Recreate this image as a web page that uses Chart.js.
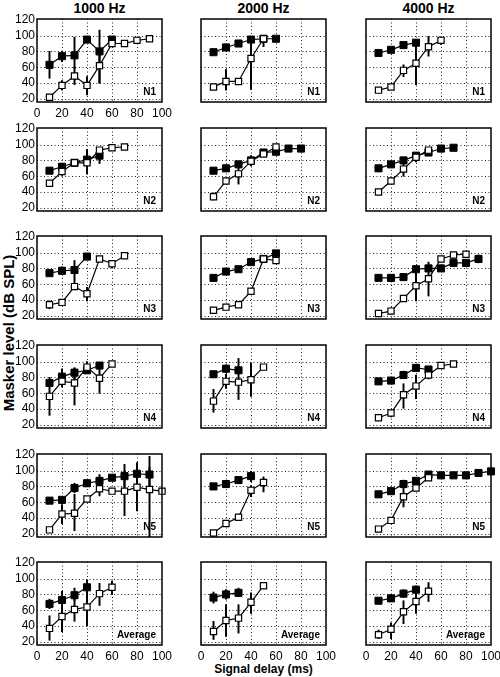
<!DOCTYPE html>
<html>
<head>
<meta charset="utf-8">
<script src="https://cdn.jsdelivr.net/npm/chart.js@4.4.1/dist/chart.umd.min.js"></script>
<style>
  html, body { margin: 0; padding: 0; background: #fff; }
  body { width: 500px; height: 677px; position: relative; overflow: hidden; font-family: "Liberation Sans", Arial, Helvetica, sans-serif; }
  canvas { position: absolute; }
  .txt { position: absolute; font-weight: bold; color: #000; white-space: nowrap; }
  .tick { position: absolute; font-size: 12px; line-height: 12px; color: #000; white-space: nowrap; transform: translateX(-50%); z-index: 5; }
</style>
</head>
<body>
<script>
// ---------------- DATA ----------------
const delays = [10, 20, 30, 40, 50, 60, 70, 80, 90, 100];   // signal delay (ms)
const frequencies = ['1000 Hz', '2000 Hz', '4000 Hz'];
const listeners = ['N1', 'N2', 'N3', 'N4', 'N5', 'Average'];
const xTicks = [0, 20, 40, 60, 80, 100];
const yTicks = [20, 40, 60, 80, 100, 120];
const xTitle = 'Signal delay (ms)';
const yTitle = 'Masker level (dB SPL)';

// 1000 Hz  (filled = ■, open = □ ; error bars as [low, high])
const f1000_N1 = [63, 74, 75, 95, 80, 95];
const f1000_N1_err = [[46, 80], [67, 80], [58, 98], null, [40, 107], null];
const o1000_N1 = [22, 37, 49, 37, 62, 90, 90, 94, 96];
const o1000_N1_err = [[19, 25], [31, 43], [38, 60], [25, 48], [40, 78], null, null, null, null];

const f1000_N2 = [67, 72, 77, 81, 86];
const f1000_N2_err = [null, [68, 76], null, [72, 91], [76, 95]];
const o1000_N2 = [51, 66, 77, 77, 93, 96, 97];
const o1000_N2_err = [null, [61, 72], null, [63, 94], null, null, null];

const f1000_N3 = [74, 77, 78, 95];
const f1000_N3_err = [null, [72, 82], [62, 90], null];
const o1000_N3 = [34, 37, 57, 48, 92, 86, 96];
const o1000_N3_err = [[29, 39], null, null, [39, 56], null, [81, 90], null];

const f1000_N4 = [73, 81, 86, 89, 95];
const f1000_N4_err = [null, [70, 91], [78, 92], null, null];
const o1000_N4 = [56, 75, 73, 93, 79, 97];
const o1000_N4_err = [[32, 80], [68, 83], [45, 92], [86, 100], [60, 94], null];

const f1000_N5 = [62, 63, 78, 84, 87, 91, 93, 96, 95];
const f1000_N5_err = [null, null, [72, 84], [81, 88], [80, 95], null, [80, 108], [84, 110], [75, 118]];
const o1000_N5 = [25, 45, 46, 64, 77, 74, 74, 79, 76, 74];
const o1000_N5_err = [null, [33, 57], [24, 70], null, [68, 90], null, [43, 100], [49, 98], [16, 104], null];

const f1000_Avg = [68, 73, 79, 89];
const f1000_Avg_err = [[62, 74], [64, 84], [72, 88], [80, 98]];
const o1000_Avg = [37, 52, 61, 64, 81, 89];
const o1000_Avg_err = [[22, 53], [33, 69], [46, 78], [40, 87], [66, 94], [80, 97]];

// 2000 Hz
const f2000_N1 = [79, 85, 90, 95, 96, 96];
const f2000_N1_err = [null, null, null, null, null, null];
const o2000_N1 = [35, 42, 42, 71, 96];
const o2000_N1_err = [null, [31, 57], null, [32, 91], [86, 99]];

const f2000_N2 = [67, 70, 75, 80, 90, 91, 95, 95];
const f2000_N2_err = [null, null, null, [73, 86], null, null, null, null];
const o2000_N2 = [34, 54, 63, 79, 88, 97];
const o2000_N2_err = [[30, 39], null, [50, 72], [76, 83], null, null];

const f2000_N3 = [68, 76, 79, 88, 92, 99];
const f2000_N3_err = [null, null, null, null, null, null];
const o2000_N3 = [27, 31, 34, 51, 92, 90];
const o2000_N3_err = [[24, 30], null, null, null, null, null];

const f2000_N4 = [84, 91, 89];
const f2000_N4_err = [null, [86, 96], null];
const o2000_N4 = [50, 75, 74, 77, 93];
const o2000_N4_err = [[36, 65], [66, 84], [52, 104], [56, 98], null];

const f2000_N5 = [80, 83, 88, 93];
const f2000_N5_err = [null, null, null, [86, 99]];
const o2000_N5 = [21, 33, 41, 75, 85];
const o2000_N5_err = [null, null, null, [67, 81], [73, 92]];

const f2000_Avg = [76, 80, 82];
const f2000_Avg_err = [[69, 83], [74, 86], [77, 88]];
const o2000_Avg = [33, 47, 50, 70, 91];
const o2000_Avg_err = [[23, 46], [27, 67], [31, 67], [56, 82], null];

// 4000 Hz
const f4000_N1 = [78, 82, 88, 91];
const f4000_N1_err = [null, null, null, null];
const o4000_N1 = [31, 35, 56, 65, 86, 94];
const o4000_N1_err = [null, null, [48, 63], [38, 93], [74, 99], [89, 98]];

const f4000_N2 = [70, 75, 80, 86, 90, 95, 96];
const f4000_N2_err = [null, null, null, null, null, null, null];
const o4000_N2 = [40, 54, 69, 84, 93];
const o4000_N2_err = [null, null, [60, 76], [78, 90], null];

const f4000_N3 = [68, 68, 69, 79, 80, 80, 87, 87, 92];
const f4000_N3_err = [null, [64, 72], null, null, null, null, [83, 92], null, [87, 97]];
const o4000_N3 = [23, 26, 42, 58, 67, 92, 97, 98];
const o4000_N3_err = [null, [22, 30], null, [39, 79], [45, 88], null, null, null];

const f4000_N4 = [75, 76, 83, 92, 90];
const f4000_N4_err = [null, null, [80, 88], null, null];
const o4000_N4 = [29, 35, 58, 69, 83, 95, 97];
const o4000_N4_err = [null, [30, 38], [41, 72], [53, 83], [78, 88], null, null];

const f4000_N5 = [70, 74, 83, 87, 95, 94, 94, 94, 97, 99];
const f4000_N5_err = [null, null, [79, 88], null, null, null, null, null, null, null];
const o4000_N5 = [26, 37, 67, 78, 91];
const o4000_N5_err = [null, null, [54, 81], null, null];

const f4000_Avg = [72, 75, 81, 86];
const f4000_Avg_err = [null, [71, 80], [76, 86], [80, 91]];
const o4000_Avg = [29, 36, 58, 71, 84];
const o4000_Avg_err = [[24, 35], [24, 44], [43, 72], [56, 84], [71, 95]];

// ---------------- PANEL TABLE (built from the arrays) ----------------
const panelData = [
  [[f1000_N1, f1000_N1_err, o1000_N1, o1000_N1_err], [f2000_N1, f2000_N1_err, o2000_N1, o2000_N1_err], [f4000_N1, f4000_N1_err, o4000_N1, o4000_N1_err]],
  [[f1000_N2, f1000_N2_err, o1000_N2, o1000_N2_err], [f2000_N2, f2000_N2_err, o2000_N2, o2000_N2_err], [f4000_N2, f4000_N2_err, o4000_N2, o4000_N2_err]],
  [[f1000_N3, f1000_N3_err, o1000_N3, o1000_N3_err], [f2000_N3, f2000_N3_err, o2000_N3, o2000_N3_err], [f4000_N3, f4000_N3_err, o4000_N3, o4000_N3_err]],
  [[f1000_N4, f1000_N4_err, o1000_N4, o1000_N4_err], [f2000_N4, f2000_N4_err, o2000_N4, o2000_N4_err], [f4000_N4, f4000_N4_err, o4000_N4, o4000_N4_err]],
  [[f1000_N5, f1000_N5_err, o1000_N5, o1000_N5_err], [f2000_N5, f2000_N5_err, o2000_N5, o2000_N5_err], [f4000_N5, f4000_N5_err, o4000_N5, o4000_N5_err]],
  [[f1000_Avg, f1000_Avg_err, o1000_Avg, o1000_Avg_err], [f2000_Avg, f2000_Avg_err, o2000_Avg, o2000_Avg_err], [f4000_Avg, f4000_Avg_err, o4000_Avg, o4000_Avg_err]]
];

// ---------------- LAYOUT ----------------
const FONT = '"Liberation Sans", Arial, Helvetica, sans-serif';
const colLeft = [37, 201, 366];
const rowTop = [19, 128, 236, 345, 454, 562];
const PW = 125, PH = 83;
const PADT = 10, PADR = 14, XH = 22;

function pts(vals) { return vals.map((v, i) => ({ x: delays[i], y: v })); }
function errs(errA, errB) {
  const out = [];
  [errA, errB].forEach(arr => arr.forEach((e, i) => { if (e) out.push({ x: delays[i], y: e }); }));
  return out;
}

// dotted grid drawn from the library's scales
const gridPlugin = {
  id: 'dotGrid',
  beforeDatasetsDraw(chart) {
    const { ctx, chartArea: a, scales } = chart;
    ctx.save();
    ctx.strokeStyle = '#222';
    ctx.lineWidth = 1;
    ctx.setLineDash([1, 2.5]);
    xTicks.forEach(v => {
      if (v <= scales.x.min || v >= scales.x.max) return;
      const px = Math.round(scales.x.getPixelForValue(v)) + 0.5;
      ctx.beginPath(); ctx.moveTo(px, a.top); ctx.lineTo(px, a.bottom); ctx.stroke();
    });
    yTicks.forEach(v => {
      if (v <= scales.y.min || v >= scales.y.max - 1.5) return;
      const py = Math.round(scales.y.getPixelForValue(v)) + 0.5;
      ctx.beginPath(); ctx.moveTo(a.left, py); ctx.lineTo(a.right, py); ctx.stroke();
    });
    ctx.restore();
  }
};

// frame and panel label
const boxPlugin = {
  id: 'boxAndLabel',
  afterDraw(chart, args, opts) {
    const { ctx, chartArea: a } = chart;
    ctx.save();
    ctx.strokeStyle = '#000';
    ctx.lineWidth = 1.5;
    ctx.strokeRect(a.left, a.top, a.right - a.left, a.bottom - a.top);
    ctx.fillStyle = '#000';
    ctx.font = 'bold 10px ' + FONT;
    ctx.textAlign = 'right';
    ctx.textBaseline = 'alphabetic';
    ctx.fillText(opts.label, a.right - 6, a.bottom - 7);
    ctx.restore();
  }
};

function addText(txt, x, y, size, rotate) {
  const d = document.createElement('div');
  d.className = 'txt';
  d.textContent = txt;
  d.style.fontSize = size + 'px';
  d.style.left = x + 'px';
  d.style.top = y + 'px';
  d.style.transform = 'translate(-50%, -50%)' + (rotate ? ' rotate(-90deg)' : '');
  document.body.appendChild(d);
}

frequencies.forEach((f, c) => addText(f, colLeft[c] + PW / 2, 8, 14, false));
addText(yTitle, 8, 333, 15, true);
addText(xTitle, colLeft[1] + PW / 2, 669, 12, false);

const labelledX = [];
for (let r = 0; r < 6; r++) {
  for (let c = 0; c < 3; c++) {
    const [fv, fe, ov, oe] = panelData[r][c];
    const YW = (c === 0) ? 36 : 6;
    const cv = document.createElement('canvas');
    const W = YW + PW + PADR, H = PADT + PH + XH;
    cv.width = W; cv.height = H;
    const left = colLeft[c] - YW, top = rowTop[r] - PADT;
    cv.style.left = left + 'px';
    cv.style.top = top + 'px';
    cv.style.width = W + 'px'; cv.style.height = H + 'px';
    document.body.appendChild(cv);
    const showX = (r === 5) || (r === 0 && c === 0);
    const showY = (c === 0);
    const ch = new Chart(cv, {
      type: 'line',
      data: {
        datasets: [
          { type: 'bar', data: errs(fe, oe), backgroundColor: '#000', borderWidth: 0, barThickness: 1.3, order: 3, grouped: false },
          { type: 'line', data: pts(fv), borderColor: '#000', borderWidth: 1.2, pointStyle: 'rect', pointRadius: 5,
            pointBackgroundColor: '#000', pointBorderColor: '#000', pointBorderWidth: 1, order: 2, clip: 8, tension: 0 },
          { type: 'line', data: pts(ov), borderColor: '#000', borderWidth: 1.2, pointStyle: 'rect', pointRadius: 4.4,
            pointBackgroundColor: '#fff', pointBorderColor: '#000', pointBorderWidth: 1.2, order: 1, clip: 8, tension: 0 }
        ]
      },
      options: {
        responsive: false, animation: false, devicePixelRatio: 1,
        layout: { padding: { left: 0, top: PADT, right: PADR, bottom: 0 } },
        plugins: { legend: { display: false }, tooltip: { enabled: false }, boxAndLabel: { label: listeners[r] } },
        scales: {
          x: {
            type: 'linear', min: 0, max: 100, offset: false,
            afterBuildTicks: s => { s.ticks = xTicks.map(v => ({ value: v })); },
            afterFit: s => { s.height = XH; },
            ticks: { display: false },
            grid: { display: false, drawTicks: false, offset: false },
            border: { display: false }
          },
          y: {
            type: 'linear', min: 16, max: 121, beginAtZero: false,
            afterBuildTicks: s => { s.ticks = yTicks.map(v => ({ value: v })); },
            afterFit: s => { s.width = YW; },
            ticks: { display: showY, color: '#000', font: { family: FONT, size: 12 }, padding: 2, autoSkip: false },
            grid: { display: false, drawTicks: false },
            border: { display: false }
          }
        }
      },
      plugins: [gridPlugin, boxPlugin]
    });
    if (showX) labelledX.push({ ch, left, top });
  }
}

// x tick labels placed from each chart's own x scale, added last so nothing covers them
labelledX.forEach(({ ch, left, top }) => {
  const a = ch.chartArea;
  xTicks.forEach(v => {
    const d = document.createElement('div');
    d.className = 'tick';
    d.textContent = String(v);
    d.style.left = (left + ch.scales.x.getPixelForValue(v)) + 'px';
    d.style.top = (top + a.bottom + 5) + 'px';
    document.body.appendChild(d);
  });
});
</script>
</body>
</html>
